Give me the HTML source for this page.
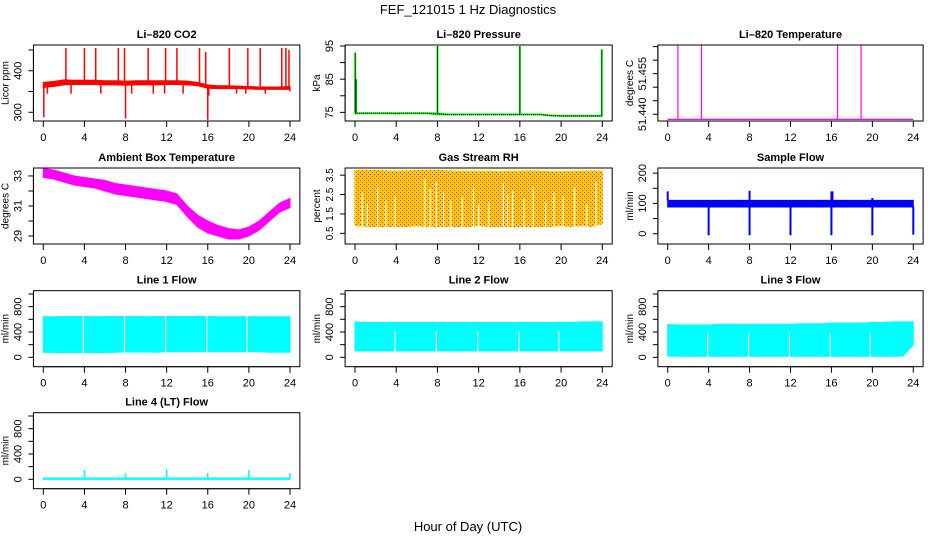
<!DOCTYPE html>
<html><head><meta charset="utf-8"><style>
body{margin:0;background:#fff}
svg{display:block;font-family:"Liberation Sans",sans-serif}
</style></head><body>
<svg id="c" width="936" height="540" viewBox="0 0 936 540">
<defs>
<pattern id="rhpat" width="4" height="4" patternUnits="userSpaceOnUse"><rect width="4" height="4" fill="#ffcc00"/><rect width="1" height="1" fill="#ff2200"/><rect x="2" y="2" width="1" height="1" fill="#ff2200"/></pattern>
</defs>
<text x="468" y="14" font-size="13" text-anchor="middle">FEF_121015  1 Hz Diagnostics</text>
<text x="468" y="531" font-size="13" text-anchor="middle">Hour of Day (UTC)</text>
</svg>
<script>
const hours=[0,1,2,3,4,5,6,7,8,9,10,11,12,13,14,15,16,17,18,19,20,21,22,23,24];
const xTicks=[0,4,8,12,16,20,24];
// CO2
const co2Lo=[360,362,366,367,367,367,366,366,365,366,366,366,367,367,366,364,358,357,357,357,356,355,355,355,355];
const co2Hi=[372,374,378,377,377,377,376,376,375,376,376,376,376,376,375,372,366,364,364,363,362,361,361,361,362];
const co2UpT=[2.2,4.0,5.1,7.3,7.9,10.2,11.9,13.0,15.2,15.8,18.1,19.9,21.1,23.2,23.6,23.9];
const co2UpV=[455,455,455,455,455,455,455,455,455,445,455,455,455,455,455,450];
const co2DnT=[0.05,8.0,16.0,0.4,2.7,5.6,8.6,10.7,11.8,13.6,16.1,18.8,19.7,21.6,24.0];
const co2DnV=[288,285,282,345,345,345,345,345,345,345,340,345,345,345,350];
// Pressure
const presLo=[74.5,74.6,74.6,74.6,74.5,74.6,74.6,74.6,74.3,74.2,74.2,74.2,74.2,74.2,74.2,74.2,74.2,74.2,74.2,73.9,73.8,73.8,73.8,73.8,73.8];
const presHi=[74.9,74.9,74.9,74.9,74.9,74.9,74.9,74.9,74.8,74.5,74.5,74.5,74.5,74.5,74.5,74.5,74.5,74.5,74.5,74.2,74.1,74.1,74.1,74.1,74.1];
const presSpT=[0.02,0.1,8.0,16.0,23.95];
const presSpV=[93,85,95,95,94];
// Li-820 temperature
const tempBase=51.4381;
const tempSpT=[1.0,3.3,16.6,18.9];
const tempSpV=[51.4655,51.4655,51.4655,51.4655];
// Ambient
const ambHi=[33.5,33.4,33.2,33.0,32.9,32.8,32.7,32.5,32.4,32.3,32.2,32.1,32.0,31.8,31.0,30.4,30.0,29.7,29.5,29.4,29.6,30.0,30.6,31.2,31.5];
const ambLo=[32.9,32.8,32.6,32.4,32.3,32.2,32.0,31.8,31.7,31.6,31.5,31.4,31.3,31.1,30.3,29.6,29.2,29.0,28.8,28.8,29.0,29.4,30.0,30.6,30.9];
// RH
const rhLo=[0.9,0.85,0.85,0.85,0.85,0.85,0.9,0.85,0.85,0.85,0.85,0.85,0.9,0.85,0.85,0.85,0.85,0.85,0.85,0.85,0.9,0.85,0.9,0.85,1.0];
const rhHi=[3.75,3.75,3.75,3.72,3.7,3.72,3.75,3.75,3.75,3.72,3.7,3.7,3.7,3.7,3.68,3.7,3.7,3.72,3.7,3.68,3.68,3.7,3.7,3.72,3.7];
const rhGapT=[0.7,1.2,2.2,3.0,3.9,6.8,7.3,7.9,8.6,9.3,10.4,11.5,12.0,13.0,14.4,14.8,15.3,16.4,17.3,18.5,19.3,20.2,21.3,22.5,23.4];
const rhGapV=[2.6,2.0,2.9,2.2,2.4,3.3,2.8,3.2,2.6,2.2,2.4,2.9,2.0,2.1,3.1,2.5,2.7,2.3,2.9,2.1,2.6,2.4,2.9,2.0,3.2];
// Sample flow
const sfLo=hours.map(()=>88);
const sfHi=hours.map(()=>110);
const sfUpT=[0.0,8.0,16.0,16.1,20.0];
const sfUpV=[140,142,140,140,118];
const sfDnT=[4.0,8.0,12.0,16.0,20.0,24.0];
const sfDnV=[-5,-5,-5,-5,-5,-3];
// Line flows
const l1Lo=[80,75,75,75,75,75,75,80,85,85,85,80,90,90,90,90,90,90,90,90,90,90,80,80,80];
const l1Hi=[640,640,645,645,645,640,645,645,645,645,640,645,645,645,645,645,645,640,640,640,645,640,640,640,640];
const l1GapT=[3.9,7.9,11.9,15.9,19.8];
const l2Lo=[100,100,100,100,100,100,100,100,100,100,100,100,100,100,100,100,100,100,100,100,100,100,100,100,100];
const l2Hi=[560,550,550,550,550,550,550,550,550,550,550,550,550,550,550,550,550,550,550,550,550,550,560,560,560];
const l2GapT=[3.9,7.9,11.9,15.9,19.8];
const l3Lo=[20,15,15,15,15,15,15,15,15,15,15,15,15,15,15,15,15,15,15,15,15,15,15,20,200];
const l3Hi=[520,510,510,510,510,520,520,520,520,520,520,520,520,530,530,530,540,540,540,540,550,550,560,560,560];
const l3GapT=[3.9,7.9,11.9,15.9,19.8];
const l4Lo=hours.map(()=>0);
const l4Hi=hours.map(()=>20);
const l4SpT=[4.0,8.0,12.0,16.0,20.0,24.0];
const l4SpV=[150,100,160,100,150,100];
const flowTicks=[0,200,400,600,800,1000];
const flowLabels=[0,400,800];

const svg=document.getElementById('c');
const NS='http://www.w3.org/2000/svg';
function mk(tag,attrs,parent){const e=document.createElementNS(NS,tag);for(const k in attrs)e.setAttribute(k,attrs[k]);(parent||svg).appendChild(e);return e;}
const colX=[[43.3,290],[355,602.3],[667.7,913.3]];
const rowTop=[45,168,290.7,412.7];
const H=76;

function panel(p){
  const g=mk('g',{});
  
  
  const [x0,x24]=colX[p.col];
  const k=(x24-x0)/24;
  const X=h=>x0+h*k;
  const top=rowTop[p.row], bot=top+H;
  const Y=v=>bot-(v-p.ylim[0])/(p.ylim[1]-p.ylim[0])*H;
  const L=X(-0.96), R=X(24.96);
  const cid='clip'+p.name;
  const cp=mk('clipPath',{id:cid},g);mk('rect',{x:L,y:top,width:R-L,height:H},cp);
  const d=mk('g',{'clip-path':'url(#'+cid+')'},g);
  
  
  p.draw(d,X,Y);
  const box=mk('rect',{x:L,y:top,width:R-L,height:H,fill:'none',stroke:'#000','stroke-width':1},g);
  
  
  const t=mk('text',{x:(L+R)/2,y:top-7,'font-size':11,'font-weight':'bold','text-anchor':'middle'},g);
  t.textContent=p.title;
  
  
  mk('line',{x1:X(0),x2:X(24),y1:bot,y2:bot,stroke:'#000'},g);
  xTicks.forEach(h=>{
    mk('line',{x1:X(h),x2:X(h),y1:bot,y2:bot+6,stroke:'#000'},g);
    const tl=mk('text',{x:X(h),y:bot+20,'font-size':11,'text-anchor':'middle'},g);
    tl.textContent=h;
    
    
  });
  const yt=p.yticks;
  mk('line',{x1:L,x2:L,y1:Y(yt[0]),y2:Y(yt[yt.length-1]),stroke:'#000'},g);
  yt.forEach(v=>mk('line',{x1:L-5,x2:L,y1:Y(v),y2:Y(v),stroke:'#000'},g));
  p.ylabels.forEach(v=>{
    const yy=Y(v);const xx=L-12;
    const tl=mk('text',{x:xx,y:yy,'font-size':p.yfs||11,'text-anchor':'middle',transform:`rotate(-90 ${xx} ${yy})`},g);
    tl.textContent=p.fmt?p.fmt(v):v;
    
    
  });
  const yl=mk('text',{x:L-25,y:(top+bot)/2,'font-size':10,'text-anchor':'middle',transform:`rotate(-90 ${L-25} ${(top+bot)/2})`},g);
  yl.textContent=p.ylab;
  
  
}
function band(d,X,Y,lo,hi,fill){
  let pts=hours.map((h,i)=>X(h)+','+Y(hi[i]));
  for(let i=hours.length-1;i>=0;i--)pts.push(X(hours[i])+','+Y(lo[i]));
  const e=mk('polygon',{points:pts.join(' '),fill:fill,stroke:fill,'stroke-width':1},d);
  
  
}
function spikes(d,X,Y,T,V,base,col,w){
  T.forEach((t,i)=>{
    const e=mk('line',{x1:X(t),x2:X(t),y1:Y(base(t)),y2:Y(V[i]),stroke:col,'stroke-width':w||1.5},d);
    
    
  });
}
function gaps(d,X,Y,T,V,bottom){
  T.forEach((t,i)=>{
    const e=mk('line',{x1:X(t),x2:X(t),y1:Y(bottom),y2:Y(V[i]),stroke:'#fff','stroke-width':1.2},d);
    
    
  });
}
const interp=(arr)=>t=>{const i=Math.max(0,Math.min(23,Math.floor(t)));const f=t-i;return arr[i]*(1-f)+arr[i+1]*f;};

panel({name:'co2-panel',col:0,row:0,title:'Li\u2013820 CO2',ylab:'Licor ppm',ylim:[279,462],yticks:[300,350,400,450],ylabels:[300,400],
 draw:(d,X,Y)=>{band(d,X,Y,co2Lo,co2Hi,'#ff0000');spikes(d,X,Y,co2UpT,co2UpV,interp(co2Hi),'#ff0000',1.5);spikes(d,X,Y,co2DnT,co2DnV,interp(co2Lo),'#ff0000',1.5);}});
panel({name:'pressure-panel',col:1,row:0,title:'Li\u2013820 Pressure',ylab:'kPa',ylim:[72.4,95.3],yticks:[75,80,85,90,95],ylabels:[75,85,95],
 draw:(d,X,Y)=>{band(d,X,Y,presLo,presHi,'#00ee00');spikes(d,X,Y,presSpT,presSpV,interp(presHi),'#00ee00',2);
  const pl=mk('polyline',{points:hours.map((h,i)=>X(h)+','+Y((presLo[i]+presHi[i])/2)).join(' '),fill:'none',stroke:'#000','stroke-dasharray':'1 1','stroke-width':1},d);
  
  spikes(d,X,Y,presSpT,presSpV,interp(presHi),'#000',0.6);}});
panel({name:'temperature-panel',col:2,row:0,title:'Li\u2013820 Temperature',ylab:'degrees C',ylim:[51.4375,51.4656],yticks:[51.440,51.445,51.450,51.455,51.460,51.465],ylabels:[51.440,51.455],fmt:v=>v.toFixed(3),
 draw:(d,X,Y)=>{const e=mk('line',{x1:X(0),x2:X(24),y1:Y(tempBase),y2:Y(tempBase),stroke:'#ff00ff','stroke-width':1.2},d);
  
  spikes(d,X,Y,tempSpT,tempSpV,()=>tempBase,'#ff00ff',1.2);}});
panel({name:'ambient-temp-panel',col:0,row:1,title:'Ambient Box Temperature',ylab:'degrees C',ylim:[28.47,33.53],yticks:[29,30,31,32,33],ylabels:[29,31,33],
 draw:(d,X,Y)=>{band(d,X,Y,ambLo,ambHi,'#ff00ff');}});
panel({name:'rh-panel',col:1,row:1,title:'Gas Stream RH',ylab:'percent',ylim:[-0.05,3.87],yticks:[0.5,1.5,2.5,3.5],ylabels:[0.5,1.5,2.5,3.5],yfs:10,fmt:v=>v.toFixed(1),
 draw:(d,X,Y)=>{band(d,X,Y,rhLo,rhHi,'url(#rhpat)');gaps(d,X,Y,rhGapT,rhGapV,0.8);}});
panel({name:'sample-flow-panel',col:2,row:1,title:'Sample Flow',ylab:'ml/min',ylim:[-34,217],yticks:[0,50,100,150,200],ylabels:[0,100,200],
 draw:(d,X,Y)=>{band(d,X,Y,sfLo,sfHi,'#0000ff');spikes(d,X,Y,sfUpT,sfUpV,interp(sfHi),'#0000ff',2);spikes(d,X,Y,sfDnT,sfDnV,interp(sfLo),'#0000ff',2);}});
const flowY=[-148,1052];
panel({name:'line1-flow-panel',col:0,row:2,title:'Line 1 Flow',ylab:'ml/min',ylim:flowY,yticks:flowTicks,ylabels:flowLabels,
 draw:(d,X,Y)=>{band(d,X,Y,l1Lo,l1Hi,'#00ffff');gaps(d,X,Y,l1GapT,l1GapT.map(()=>700),0);}});
panel({name:'line2-flow-panel',col:1,row:2,title:'Line 2 Flow',ylab:'ml/min',ylim:flowY,yticks:flowTicks,ylabels:flowLabels,
 draw:(d,X,Y)=>{band(d,X,Y,l2Lo,l2Hi,'#00ffff');gaps(d,X,Y,l2GapT,l2GapT.map(()=>420),0);}});
panel({name:'line3-flow-panel',col:2,row:2,title:'Line 3 Flow',ylab:'ml/min',ylim:flowY,yticks:flowTicks,ylabels:flowLabels,
 draw:(d,X,Y)=>{band(d,X,Y,l3Lo,l3Hi,'#00ffff');gaps(d,X,Y,l3GapT,l3GapT.map(()=>380),0);}});
panel({name:'line4-flow-panel',col:0,row:3,title:'Line 4 (LT) Flow',ylab:'ml/min',ylim:flowY,yticks:flowTicks,ylabels:flowLabels,
 draw:(d,X,Y)=>{band(d,X,Y,l4Lo,l4Hi,'#00ffff');spikes(d,X,Y,l4SpT,l4SpV,()=>20,'#00ffff',1.5);}});
</script>
</body></html>
